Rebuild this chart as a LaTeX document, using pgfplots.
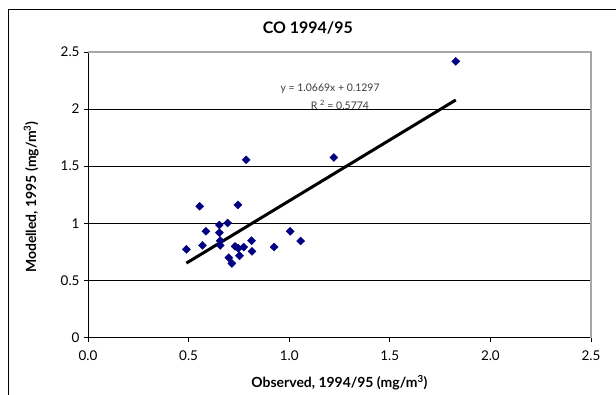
\documentclass[border=0pt]{standalone}
\usepackage{pgfplots}
\pgfplotsset{compat=1.18}
\usepackage{fontspec}
\setmainfont{Lato}
\definecolor{navyc}{RGB}{0,0,128}
\definecolor{eqgray}{RGB}{60,60,60}
\begin{document}
\begin{tikzpicture}[x=1bp,y=1bp]
\useasboundingbox (0,0) rectangle (616,394);
\draw[black, line width=1.2bp] (8.5,-5) -- (8.5,384.5) -- (630,384.5);
\begin{axis}[
  at={(88bp,56.5bp)}, anchor=south west,
  scale only axis, width=503bp, height=285.5bp,
  xmin=0, xmax=2.5, ymin=0, ymax=2.5,
  xtick={0,0.5,...,2.5}, ytick={0,0.5,...,2.5},
  axis x line*=bottom, axis y line*=left,
  axis line style={black, line width=0.8bp},
  tick align=outside, major tick length=4bp,
  tick style={black, line width=0.8bp},
  ymajorgrids, grid style={black, line width=0.7bp},
  /pgf/number format/assume math mode=true,
  ticklabel style={font=\fontsize{13.5}{15}\selectfont},
  xticklabel style={yshift=-6bp, /pgf/number format/.cd, fixed, fixed zerofill, precision=1},
  yticklabel style={xshift=-1bp},
  xlabel={Observed, 1994/95 (mg/m\textsuperscript{3})},
  ylabel={Modelled, 1995 (mg/m\textsuperscript{3})},
  xlabel style={at={(axis description cs:0.5,-0.159)}, anchor=center, font=\bfseries\fontsize{14}{16}\selectfont},
  ylabel style={at={(axis description cs:-0.113,0.492)}, anchor=center, font=\bfseries\fontsize{14}{16}\selectfont},
  title={CO 1994/95},
  title style={at={(axis description cs:0.437,1.063)}, anchor=center, font=\bfseries\fontsize{16}{18}\selectfont},
  clip=false,
]
\draw[gray!70, line width=1.3bp] (rel axis cs:0,1) -- (rel axis cs:1,1) -- (rel axis cs:1,0);
\addplot[only marks, mark=diamond*, mark size=4bp, color=navyc, mark options={fill=navyc, draw=navyc, xscale=1.35}] coordinates {
(1.828,2.418)
(0.786,1.556)
(1.222,1.576)
(0.555,1.149)
(0.745,1.161)
(0.653,0.985)
(0.694,1.003)
(0.586,0.930)
(0.653,0.918)
(1.005,0.930)
(0.657,0.848)
(0.813,0.848)
(1.057,0.845)
(0.489,0.772)
(0.569,0.807)
(0.657,0.807)
(0.731,0.798)
(0.747,0.781)
(0.774,0.792)
(0.925,0.792)
(0.815,0.754)
(0.700,0.699)
(0.753,0.716)
(0.715,0.649)
};
\addplot[black, line width=3bp, no marks] coordinates {(0.489,0.6514) (1.828,2.0800)};
\node[font=\fontsize{10.5}{12}\selectfont, text=eqgray] at (axis cs:1.203,2.176) {y = 1.0669x + 0.1297};
\node[font=\fontsize{10.5}{12}\selectfont, text=eqgray] at (axis cs:1.252,2.036) {R \textsuperscript{2} = 0.5774};
\end{axis}
\end{tikzpicture}
\end{document}
